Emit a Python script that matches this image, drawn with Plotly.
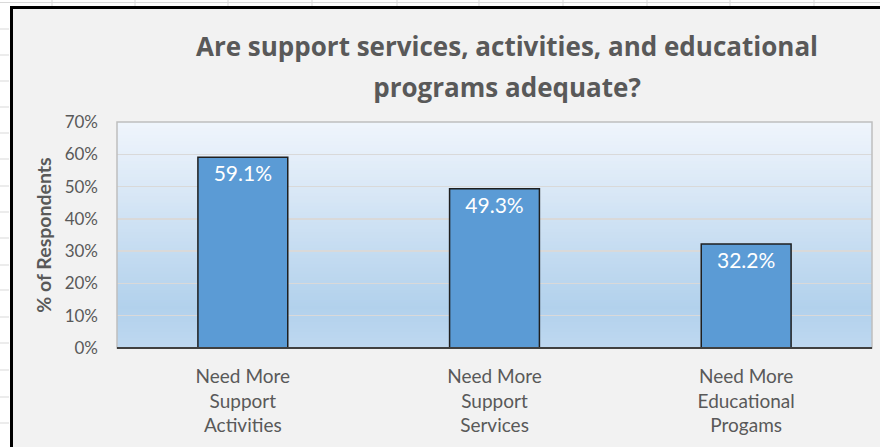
import plotly.graph_objects as go

# ---- data ----
categories = ["Need More Support Activities", "Need More Support Services", "Need More Educational Progams"]
category_labels = ["Need More<br>Support<br>Activities", "Need More<br>Support<br>Services", "Need More<br>Educational<br>Progams"]
percent_respondents = [0.591, 0.493, 0.322]
y_ticks = [0, 0.1, 0.2, 0.3, 0.4, 0.5, 0.6, 0.7]
title_lines = ["Are support services, activities, and educational", "programs adequate?"]
y_title = "% of Respondents"

# ---- layout geometry (pixels) ----
W, H = 880, 447
L, R, T, B = 117, 8, 122, 99
PW, PH = W - L - R, H - T - B

def px(x):
    return (x - L) / PW

def py(y):
    return (H - B - y) / PH

TXT = "#595959"
FONT = "Lato"
TFONT = "Open Sans"

fig = go.Figure()
fig.add_trace(go.Bar(
    x=categories, y=percent_respondents,
    width=0.357,
    marker=dict(color="#5b9bd5", line=dict(color="#1f1f1f", width=1.5)),
    text=[f"{v*100:.1f}%" for v in percent_respondents],
    textposition="inside", insidetextanchor="end",
    textfont=dict(family=FONT, size=21, color="white"),
    hoverinfo="skip",
))

shapes = []
# spreadsheet background decorations
shapes.append(dict(type="line", xref="paper", yref="paper", x0=px(0), x1=px(W), y0=py(2.5), y1=py(2.5),
                   line=dict(color="#d9d9d9", width=1), layer="below"))
for cx in [52, 135, 228, 312, 397, 479, 563, 647, 730, 814]:
    shapes.append(dict(type="line", xref="paper", yref="paper", x0=px(cx), x1=px(cx), y0=py(0), y1=py(7),
                       line=dict(color="#d9d9d9", width=1), layer="below"))
for ry in [29, 55, 81, 107, 133, 159, 186, 212, 238, 265, 290, 317, 343, 370, 397, 423]:
    shapes.append(dict(type="line", xref="paper", yref="paper", x0=px(0), x1=px(9), y0=py(ry), y1=py(ry),
                       line=dict(color="#d9d9d9", width=1), layer="below"))
# chart area
shapes.append(dict(type="rect", xref="paper", yref="paper", x0=px(11.5), x1=px(900), y0=py(7.5), y1=py(470),
                   fillcolor="#f2f2f2", line=dict(color="#000000", width=3), layer="below"))

# plot area gradient
stops = [(0.0, (190, 216, 240)), (0.18, (178, 209, 236)), (1.0, (240, 245, 252))]
def grad(t):
    for (t0, c0), (t1, c1) in zip(stops[:-1], stops[1:]):
        if t0 <= t <= t1:
            f = (t - t0) / (t1 - t0)
            return "rgb(%d,%d,%d)" % tuple(round(a + (b - a) * f) for a, b in zip(c0, c1))
    return "rgb(%d,%d,%d)" % stops[-1][1]
N = 70
for i in range(N):
    shapes.append(dict(type="rect", xref="x domain", yref="y domain", x0=0, x1=1,
                       y0=i / N, y1=min(1, (i + 1.6) / N),
                       fillcolor=grad((i + 0.5) / N), line=dict(width=0), layer="below"))
# plot border
shapes.append(dict(type="rect", xref="x domain", yref="y domain", x0=0, x1=1, y0=0, y1=1,
                   line=dict(color="#bfbfbf", width=1.5), layer="above"))
shapes.append(dict(type="line", xref="x domain", yref="y domain", x0=0, x1=1, y0=0, y1=0,
                   line=dict(color="#404040", width=1.8), layer="above"))

title_text = "<br>".join(f"<span style='font-size:26px'>{t}</span>" for t in title_lines)

fig.update_layout(
    width=W, height=H,
    margin=dict(l=L, r=R, t=T, b=B, autoexpand=False),
    paper_bgcolor="white",
    plot_bgcolor="#d0e1f3",
    showlegend=False,
    shapes=shapes,
    title=dict(text=title_text, x=px(507), xref="paper", xanchor="center",
               y=1 - 56 / H, yref="container", yanchor="top",
               font=dict(family=TFONT, size=31.5, color=TXT, weight="bold")),
    font=dict(family=FONT, color=TXT),
)
fig.update_xaxes(
    tickmode="array", tickvals=categories, ticktext=category_labels,
    tickfont=dict(family=FONT, size=19, color=TXT),
    showgrid=False, showline=False, ticks="", ticklabelstandoff=15, automargin=False,
)
fig.update_yaxes(
    range=[0, 0.7], tickvals=y_ticks, tickformat=".0%",
    tickfont=dict(family=FONT, size=17, color=TXT),
    showgrid=True, gridcolor="#d9d9d9", gridwidth=1.5,
    showline=False, zeroline=False, ticks="", ticklabelstandoff=18, automargin=False,
    title=dict(text=f"<b>{y_title}</b>", font=dict(family=FONT, size=19.5, color=TXT), standoff=7),
)

fig.write_html("out.html", config={"displayModeBar": False, "staticPlot": True},
               post_script="document.body.style.margin='0';document.body.style.overflow='hidden';")
